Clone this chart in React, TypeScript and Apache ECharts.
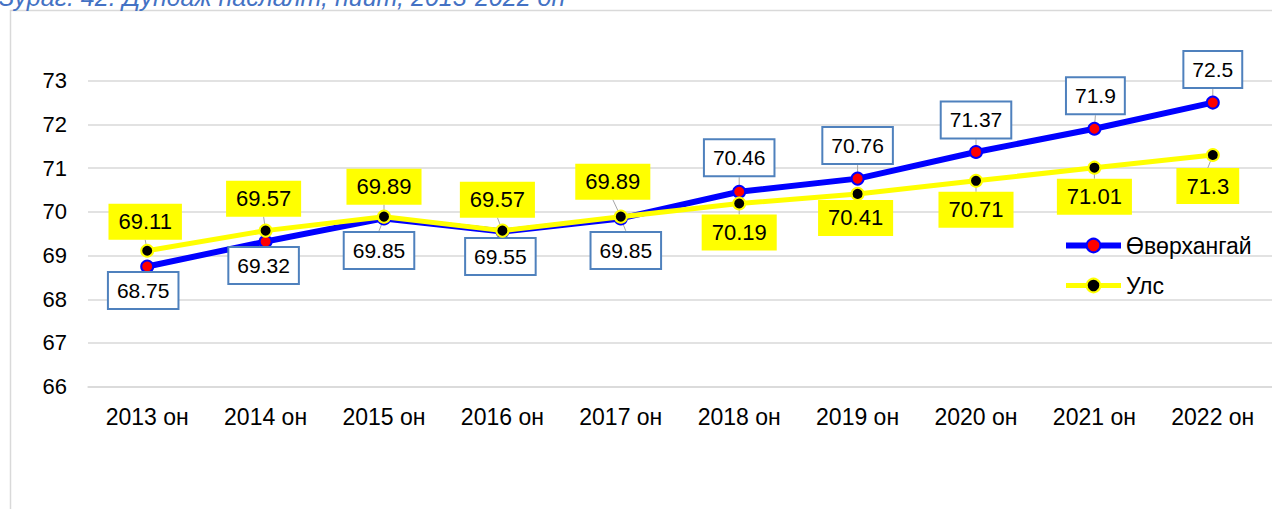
import React, { useEffect, useRef } from "react";
import * as echarts from "echarts";

const categories = ["2013 он", "2014 он", "2015 он", "2016 он", "2017 он", "2018 он", "2019 он", "2020 он", "2021 он", "2022 он"];
const ovorkhangai = [68.75, 69.32, 69.85, 69.55, 69.85, 70.46, 70.76, 71.37, 71.9, 72.5];
const uls = [69.11, 69.57, 69.89, 69.57, 69.89, 70.19, 70.41, 70.71, 71.01, 71.3];
const seriesNames = ["Өвөрхангай", "Улс"];
const titleText = "Зураг. 42. Дундаж наслалт, нийт, 2013-2022 он";

// label offsets (px) from the marker centre to the label centre
const blueLabelOffsets: [number, number][] = [
  [-4, 24], [-2, 24], [-5, 32], [-2, 25], [5, 32], [0, -34], [0, -33], [0, -32], [1, -33], [0, -33],
];
const yellowLabelOffsets: [number, number][] = [
  [-2, -29], [-2, -32], [0, -30], [-5, -31], [-8, -35], [0, 29], [-2, 24], [0, 29], [0, 29], [-5, 31],
];

export default function App() {
  const ref = useRef<HTMLDivElement>(null);
  useEffect(() => {
    if (!ref.current) return;
    const chart = echarts.init(ref.current, undefined, { renderer: "svg" });
    const gridColor = "#d9d9d9";
    chart.setOption({
      animation: false,
      textStyle: { fontFamily: "Liberation Sans, Arial, sans-serif" },
      graphic: [
        {
          type: "rect",
          shape: { x: 10.5, y: 10.5, width: 1400, height: 700 },
          style: { fill: "none", stroke: gridColor, lineWidth: 1.5 },
          silent: true,
        },
        {
          type: "text",
          x: -1,
          y: 9,
          style: {
            text: titleText,
            font: "italic 25px 'Liberation Sans', Arial, sans-serif",
            fill: "#4472C4",
            verticalAlign: "bottom",
          },
        },
      ],
      grid: { left: 88, top: 80.7, width: 1188, height: 306 },
      legend: {
        orient: "vertical",
        left: 1058,
        top: 229,
        itemWidth: 55,
        itemHeight: 17,
        itemGap: 17,
        data: [
          { name: seriesNames[0], lineStyle: { width: 6 } },
          { name: seriesNames[1], lineStyle: { width: 5 } },
        ],
        textStyle: { fontSize: 23, color: "#000" },
      },
      xAxis: {
        type: "category",
        data: categories,
        boundaryGap: true,
        axisLine: { show: true, lineStyle: { color: gridColor, width: 1.5 } },
        axisTick: { show: false },
        axisLabel: { fontSize: 23, color: "#000", margin: 19 },
      },
      yAxis: {
        type: "value",
        min: 66,
        max: 73,
        interval: 1,
        axisLine: { show: false },
        axisTick: { show: false },
        axisLabel: { fontSize: 22, color: "#000", margin: 21 },
        splitLine: { lineStyle: { color: gridColor, width: 1.5 } },
      },
      series: [
        {
          name: seriesNames[0],
          type: "line",
          data: ovorkhangai,
          symbol: "circle",
          symbolSize: 12,
          lineStyle: { color: "#0000FF", width: 6 },
          itemStyle: { color: "#FF0000", borderColor: "#0000FF", borderWidth: 2 },
          label: {
            show: true,
            position: "inside",
            fontSize: 21,
            color: "#000",
            backgroundColor: "#fff",
            borderColor: "#4F81BD",
            borderWidth: 2,
            padding: [7, 8],
          },
          labelLine: { show: true, lineStyle: { color: "#a6a6a6", width: 1 } },
          labelLayout: (p: any) => ({ dx: blueLabelOffsets[p.dataIndex][0], dy: blueLabelOffsets[p.dataIndex][1] }),
          z: 2,
        },
        {
          name: seriesNames[1],
          type: "line",
          data: uls,
          symbol: "circle",
          symbolSize: 12,
          lineStyle: { color: "#FFFF00", width: 5 },
          itemStyle: { color: "#000000", borderColor: "#FFFF00", borderWidth: 2 },
          label: {
            show: true,
            position: "inside",
            fontSize: 22,
            color: "#000",
            backgroundColor: "#FFFF00",
            padding: [7, 10],
          },
          labelLine: { show: true, lineStyle: { color: "#a6a6a6", width: 1 } },
          labelLayout: (p: any) => ({ dx: yellowLabelOffsets[p.dataIndex][0], dy: yellowLabelOffsets[p.dataIndex][1] }),
          z: 3,
        },
      ],
    });
    return () => chart.dispose();
  }, []);
  return <div ref={ref} style={{ position: "fixed", left: 0, top: 0, width: 1272, height: 509, background: "#fff" }} />;
}
